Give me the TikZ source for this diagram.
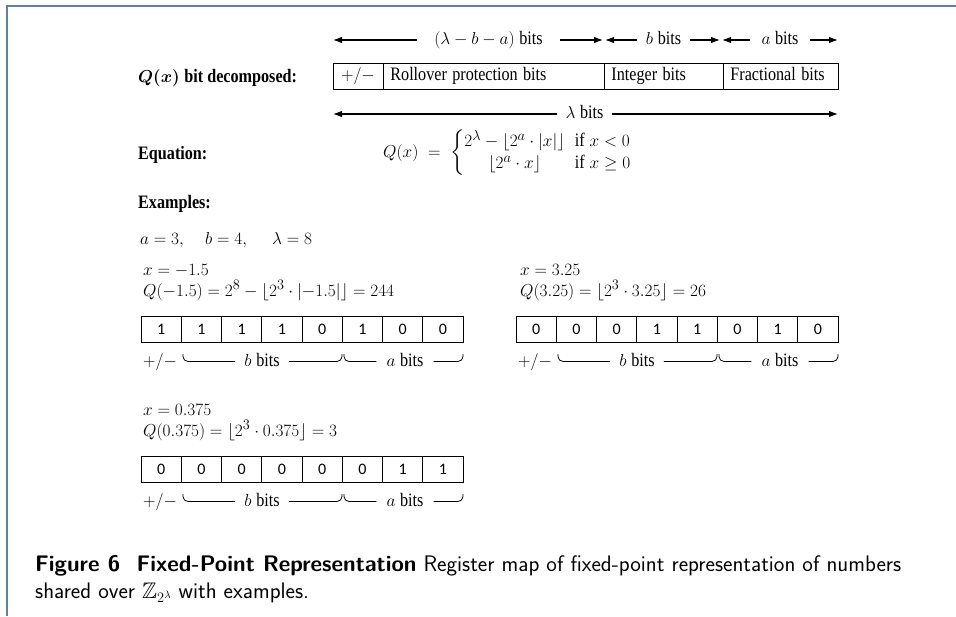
\documentclass[tikz,border=0pt]{standalone}
\usepackage{amsmath,amssymb}
\usepackage{fontspec}
\setmainfont{Liberation Serif}
\newfontfamily\digfont{Carlito}
\usetikzlibrary{arrows.meta}
\definecolor{framec}{RGB}{96,128,168}
\newcommand\sq[1]{\scalebox{0.85}[1]{#1}}
\tikzset{
  txt/.style={font=\fontsize{19}{22}\selectfont, inner sep=0pt},
  btxt/.style={font=\fontsize{19}{22}\selectfont\bfseries, inner sep=0pt, anchor=base west},
  mth/.style={font=\fontsize{19}{22}\selectfont, inner sep=0pt, anchor=base west},
  arrtxt/.style={txt, text height=13pt, text depth=4pt},
  arr/.style={-{Latex[length=9pt,width=6.5pt]}, line width=1.1pt},
  field/.style={draw, line width=0.8pt, minimum height=26pt, inner ysep=0pt, text height=13pt, text depth=4pt, font=\fontsize{19}{22}\selectfont},
  cell/.style={draw, line width=0.8pt, minimum width=40.25pt, minimum height=26pt, inner sep=0pt, font=\digfont\fontsize{16}{19}\selectfont},
  lab/.style={font=\fontsize{19}{22}\selectfont, inner ysep=0pt, text height=9pt, text depth=0pt, anchor=base},
  brc/.style={line width=0.8pt, rounded corners=5pt},
  capt/.style={font=\sffamily\fontsize{22.5}{27}\selectfont, inner sep=0pt, anchor=base west}
}
\newcommand\bitrow[4]{%
  \foreach \b [count=\i] in {#4} {
    \node[cell] (#1c\i) at ({#2+(\i-0.5)*40.25},{#3+13}) {\b};
  }
  \node[lab, anchor=base west, inner xsep=0pt] (#1pm) at (#2+2,#3+50) {$+/-$};
  \node[lab, inner xsep=9pt] (#1b) at (#2+121,#3+50) {$b$ \sq{bits}};
  \node[lab, inner xsep=10pt] (#1a) at (#2+264,#3+50) {$a$ \sq{bits}};
  \draw[brc] (#2+42,#3+38) |- (#1b.west);
  \draw[brc] (#1b.east) -| (#2+201,#3+38);
  \draw[brc] (#2+203,#3+38) |- (#1a.west);
  \draw[brc] (#1a.east) -| (#2+322,#3+38);
}
\begin{document}
\begin{tikzpicture}[x=1pt,y=-1pt]
\useasboundingbox (0,0) rectangle (956,616);
\fill[white] (0,0) rectangle (956,616);
\draw[framec, line width=2pt] (7,616) -- (7,6) -- (956,6);

% top dimension arrows
\node[arrtxt, minimum width=143pt] (t1) at (488.5,40) {$(\lambda-b-a)$ \sq{bits}};
\node[arrtxt, minimum width=53pt] (t2) at (663.5,40) {$b$ \sq{bits}};
\node[arrtxt, minimum width=60pt] (t3) at (780,40) {$a$ \sq{bits}};
\coordinate (c0) at (333,40);
\coordinate (c1) at (603,40);
\coordinate (c1b) at (605,40);
\coordinate (c2) at (720,40);
\coordinate (c2b) at (722,40);
\coordinate (c3) at (838,40);
\draw[arr] (t1.west) -- (c0);
\draw[arr] (t1.east) -- (c1);
\draw[arr] (t2.west) -- (c1b);
\draw[arr] (t2.east) -- (c2);
\draw[arr] (t3.west) -- (c2b);
\draw[arr] (t3.east) -- (c3);

% decomposition
\node[btxt] (qlab) at (138,82) {$\boldsymbol{Q(x)}$ \sq{bit decomposed:}};
\node[field, minimum width=50pt, inner xsep=0pt] (f1) at (358,76) {$+/-$};
\node[field, anchor=west, text width=207pt, inner xsep=7pt, align=left] (f2) at (383,76) {\sq{Rollover protection bits}};
\node[field, anchor=west, text width=105pt, inner xsep=7pt, align=left] (f3) at (604,76) {\sq{Integer bits}};
\node[field, anchor=west, text width=101pt, inner xsep=7pt, align=left] (f4) at (723,76) {\sq{Fractional bits}};

% lambda bits
\node[arrtxt, minimum width=55pt] (t4) at (584.5,114) {$\lambda$ \sq{bits}};
\coordinate (d0) at (333,114);
\coordinate (d1) at (838,114);
\draw[arr] (t4.west) -- (d0);
\draw[arr] (t4.east) -- (d1);

% equation
\node[btxt] (eqlab) at (138,159) {\sq{Equation:}};
\node[txt, anchor=west] (eq) at (383,153) {$Q(x)\;=\;\left\{\begin{array}{@{}c@{\hspace{10pt}}l@{}}
2^{\lambda}-\lfloor 2^{a}\cdot|x|\rfloor & \text{\sq{if} }x<0\\[0pt]
\lfloor 2^{a}\cdot x\rfloor & \text{\sq{if} }x\geq 0
\end{array}\right.$};

% examples
\node[btxt] (exlab) at (138,208) {\sq{Examples:}};
\node[mth] (pa) at (140,244) {$a=3,$};
\node[mth] (pb) at (205,244) {$b=4,$};
\node[mth] (pl) at (272,244) {$\lambda=8$};

\node[mth] (x1) at (143,275) {$x=-1.5$};
\node[mth] (q1) at (143,296) {$Q(-1.5)=2^{8}-\lfloor 2^{3}\cdot|{-1.5}|\rfloor=244$};
\bitrow{e1}{141}{316}{1,1,1,1,0,1,0,0}

\node[mth] (x2) at (520,275) {$x=3.25$};
\node[mth] (q2) at (520,296) {$Q(3.25)=\lfloor 2^{3}\cdot 3.25\rfloor=26$};
\bitrow{e2}{516}{316}{0,0,0,1,1,0,1,0}

\node[mth] (x3) at (143,415) {$x=0.375$};
\node[mth] (q3) at (143,436) {$Q(0.375)=\lfloor 2^{3}\cdot 0.375\rfloor=3$};
\bitrow{e3}{141}{456}{0,0,0,0,0,0,1,1}

% caption
\node[capt] (cap1) at (35,571) {\textbf{Figure 6\ \ Fixed-Point Representation} Register map of fixed-point representation of numbers};
\node[capt] (cap2) at (35,598) {shared over $\mathbb{Z}_{2^{\lambda}}$ with examples.};
\end{tikzpicture}
\end{document}
